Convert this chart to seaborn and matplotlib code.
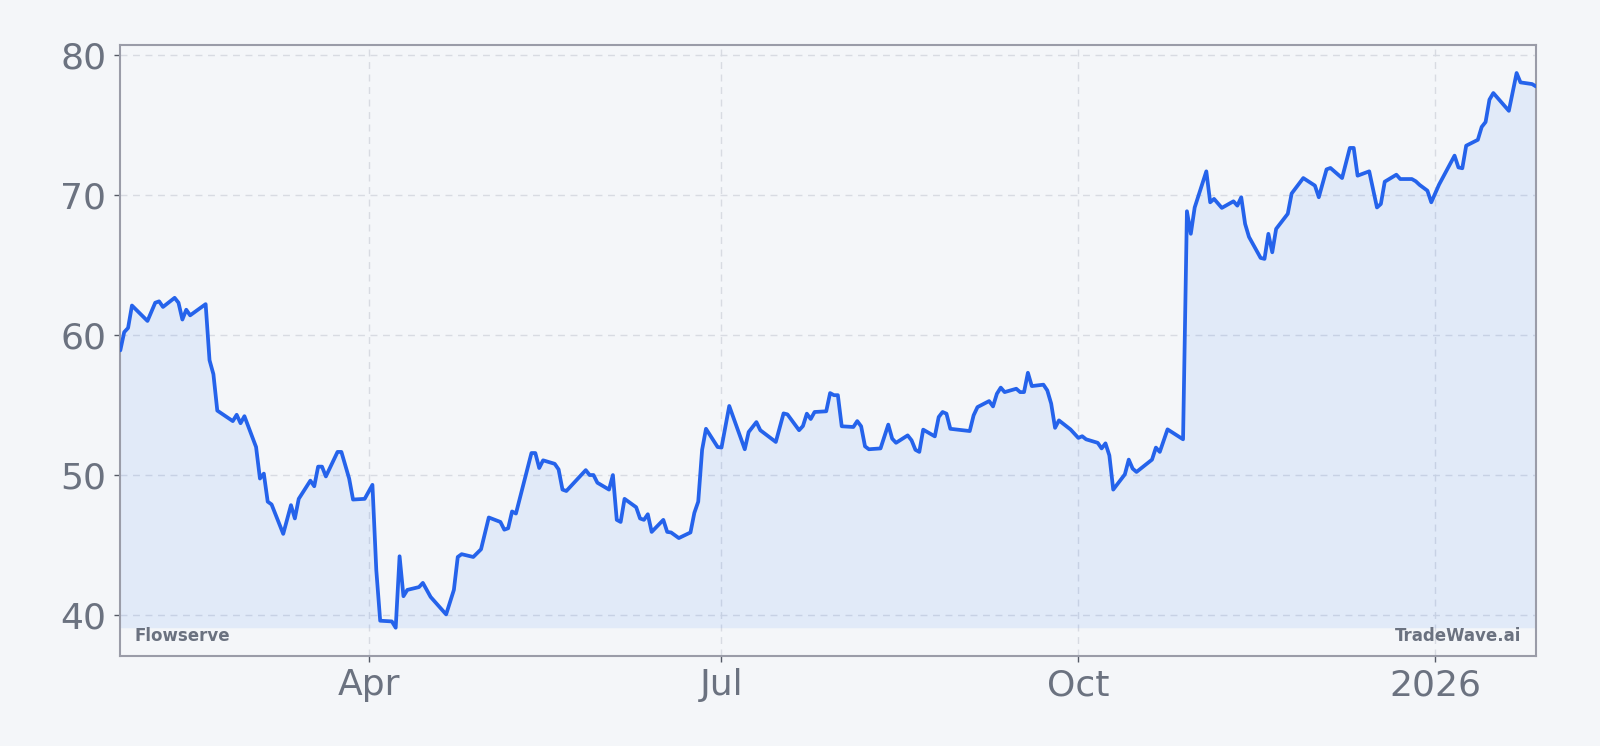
import matplotlib
matplotlib.use("Agg")
import matplotlib.pyplot as plt
import seaborn as sns
import pandas as pd

dates = [
    "2025-01-27", "2025-01-28", "2025-01-29", "2025-01-30", "2025-02-03", "2025-02-05",
    "2025-02-06", "2025-02-07", "2025-02-10", "2025-02-11", "2025-02-12", "2025-02-13",
    "2025-02-14", "2025-02-18", "2025-02-19", "2025-02-20", "2025-02-21", "2025-02-25",
    "2025-02-26", "2025-02-27", "2025-02-28", "2025-03-03", "2025-03-04", "2025-03-05",
    "2025-03-06", "2025-03-07", "2025-03-10", "2025-03-12", "2025-03-13", "2025-03-14",
    "2025-03-17", "2025-03-18", "2025-03-19", "2025-03-20", "2025-03-21", "2025-03-24",
    "2025-03-25", "2025-03-27", "2025-03-28", "2025-03-31", "2025-04-02", "2025-04-03",
    "2025-04-04", "2025-04-07", "2025-04-08", "2025-04-09", "2025-04-10", "2025-04-11",
    "2025-04-14", "2025-04-15", "2025-04-17", "2025-04-21", "2025-04-23", "2025-04-24",
    "2025-04-25", "2025-04-28", "2025-04-30", "2025-05-02", "2025-05-05", "2025-05-06",
    "2025-05-07", "2025-05-08", "2025-05-09", "2025-05-13", "2025-05-14", "2025-05-15",
    "2025-05-16", "2025-05-19", "2025-05-20", "2025-05-21", "2025-05-22", "2025-05-27",
    "2025-05-28", "2025-05-29", "2025-05-30", "2025-06-02", "2025-06-03", "2025-06-04",
    "2025-06-05", "2025-06-06", "2025-06-09", "2025-06-10", "2025-06-11", "2025-06-12",
    "2025-06-13", "2025-06-16", "2025-06-17", "2025-06-18", "2025-06-20", "2025-06-23",
    "2025-06-24", "2025-06-25", "2025-06-26", "2025-06-27", "2025-06-30", "2025-07-01",
    "2025-07-03", "2025-07-07", "2025-07-08", "2025-07-10", "2025-07-11", "2025-07-15",
    "2025-07-17", "2025-07-18", "2025-07-21", "2025-07-22", "2025-07-23", "2025-07-24",
    "2025-07-25", "2025-07-28", "2025-07-29", "2025-07-30", "2025-07-31", "2025-08-01",
    "2025-08-04", "2025-08-05", "2025-08-06", "2025-08-07", "2025-08-08", "2025-08-11",
    "2025-08-13", "2025-08-14", "2025-08-15", "2025-08-18", "2025-08-19", "2025-08-20",
    "2025-08-21", "2025-08-22", "2025-08-25", "2025-08-26", "2025-08-27", "2025-08-28",
    "2025-08-29", "2025-09-03", "2025-09-04", "2025-09-05", "2025-09-08", "2025-09-09",
    "2025-09-10", "2025-09-11", "2025-09-12", "2025-09-15", "2025-09-16", "2025-09-17",
    "2025-09-18", "2025-09-19", "2025-09-22", "2025-09-23", "2025-09-24", "2025-09-25",
    "2025-09-26", "2025-09-29", "2025-10-01", "2025-10-02", "2025-10-03", "2025-10-06",
    "2025-10-07", "2025-10-08", "2025-10-09", "2025-10-10", "2025-10-13", "2025-10-14",
    "2025-10-15", "2025-10-16", "2025-10-20", "2025-10-21", "2025-10-22", "2025-10-24",
    "2025-10-28", "2025-10-29", "2025-10-30", "2025-10-31", "2025-11-03", "2025-11-04",
    "2025-11-05", "2025-11-07", "2025-11-10", "2025-11-11", "2025-11-12", "2025-11-13",
    "2025-11-14", "2025-11-17", "2025-11-18", "2025-11-19", "2025-11-20", "2025-11-21",
    "2025-11-24", "2025-11-25", "2025-11-28", "2025-12-01", "2025-12-02", "2025-12-04",
    "2025-12-05", "2025-12-08", "2025-12-10", "2025-12-11", "2025-12-12", "2025-12-15",
    "2025-12-17", "2025-12-18", "2025-12-19", "2025-12-22", "2025-12-23", "2025-12-26",
    "2025-12-27", "2025-12-28", "2025-12-30", "2025-12-31", "2026-01-02", "2026-01-06",
    "2026-01-07", "2026-01-08", "2026-01-09", "2026-01-12", "2026-01-13", "2026-01-14",
    "2026-01-15", "2026-01-16", "2026-01-20", "2026-01-22", "2026-01-23", "2026-01-26",
    "2026-01-27",
]

prices = [
    58.9, 60.2, 60.5, 62.1, 61.0, 62.3,
    62.4, 62.0, 62.65, 62.3, 61.1, 61.8,
    61.4, 62.2, 58.2, 57.2, 54.6, 53.85,
    54.3, 53.7, 54.2, 52.0, 49.75, 50.1,
    48.1, 47.9, 45.8, 47.85, 46.9, 48.3,
    49.6, 49.2, 50.6, 50.6, 49.9, 51.65,
    51.65, 49.75, 48.25, 48.3, 49.3, 43.2,
    39.6, 39.55, 39.1, 44.2, 41.35, 41.8,
    42.0, 42.3, 41.3, 40.05, 41.8, 44.15,
    44.35, 44.15, 44.7, 46.97, 46.65, 46.1,
    46.2, 47.4, 47.25, 51.57, 51.57, 50.5,
    51.05, 50.8, 50.4, 48.96, 48.86, 50.35,
    50.0, 50.0, 49.45, 48.96, 50.0, 46.8,
    46.65, 48.3, 47.7, 46.9, 46.8, 47.2,
    45.94, 46.8, 45.94, 45.9, 45.5, 45.9,
    47.3, 48.1, 51.8, 53.3, 52.0, 51.96,
    54.93, 51.84, 53.07, 53.78, 53.2, 52.36,
    54.4, 54.33, 53.2, 53.5, 54.38, 54.0,
    54.5, 54.55, 55.85, 55.7, 55.7, 53.48,
    53.43, 53.85, 53.48, 52.05, 51.84, 51.9,
    53.6, 52.6, 52.3, 52.83, 52.48, 51.8,
    51.65, 53.24, 52.76, 54.14, 54.5, 54.38,
    53.3, 53.14, 54.26, 54.85, 55.28, 54.9,
    55.8, 56.24, 55.92, 56.16, 55.92, 55.92,
    57.3, 56.35, 56.45, 56.04, 55.1, 53.37,
    53.9, 53.25, 52.65, 52.77, 52.55, 52.3,
    51.9, 52.26, 51.4, 48.96, 50.05, 51.1,
    50.46, 50.22, 51.1, 51.96, 51.65, 53.26,
    52.55, 68.83, 67.22, 69.1, 71.68, 69.47,
    69.71, 69.07, 69.54, 69.23, 69.83, 67.93,
    67.0, 65.5, 65.43, 67.22, 65.9, 67.57,
    68.65, 70.1, 71.2, 70.66, 69.83, 71.82,
    71.92, 71.2, 73.35, 73.35, 71.37, 71.68,
    69.1, 69.35, 70.94, 71.44, 71.13, 71.13,
    70.97, 70.71, 70.3, 69.47, 70.73, 72.8,
    71.96, 71.9, 73.51, 73.93, 74.85, 75.2,
    76.8, 77.27, 76.0, 78.7, 78.03, 77.91,
    77.74,
]

y_ticks = [40, 50, 60, 70, 80]
x_tick_dates = ["2025-04-01", "2025-07-01", "2025-10-01", "2026-01-01"]
x_tick_labels = ["Apr", "Jul", "Oct", "2026"]
company = "Flowserve"
brand = "TradeWave.ai"

BG = "#f4f6f9"
LINE = "#2563eb"
FILL = "#3b82f6"
TEXT = "#6b7280"

sns.set_theme(style="white")
plt.rcParams["font.family"] = ["DejaVu Sans"]

df = pd.DataFrame({"date": pd.to_datetime(dates), "price": prices})

fig = plt.figure(figsize=(16, 7.46), dpi=100, facecolor=BG)
ax = fig.add_axes([0.0752, 0.121, 0.8848, 0.8187])
ax.set_facecolor(BG)

ymin = df["price"].min()
ymax = df["price"].max()
ax.fill_between(df["date"], df["price"], ymin, color=FILL, alpha=0.1, linewidth=0, zorder=1)
sns.lineplot(data=df, x="date", y="price", ax=ax, color=LINE, linewidth=2.7, zorder=3)

ax.set_xlim(df["date"].iloc[0], df["date"].iloc[-1])
ax.set_ylim(ymin - 2, ymax + 2)

ax.set_yticks(y_ticks)
ax.set_yticklabels([str(v) for v in y_ticks])
ax.set_xticks(pd.to_datetime(x_tick_dates))
ax.set_xticklabels(x_tick_labels)

ax.tick_params(axis="y", labelsize=26, colors="#555a66", length=4, width=1, pad=6, labelcolor=TEXT)
ax.tick_params(axis="x", labelsize=26, colors="#555a66", length=4, width=1, pad=5, labelcolor=TEXT)
ax.tick_params(left=True, bottom=True)

ax.grid(True, which="major", axis="both", color="#d5d9e0", linestyle=(0, (5, 4)), linewidth=1.0, alpha=0.9, zorder=0)
ax.set_axisbelow(True)

for sp in ax.spines.values():
    sp.set_visible(True)
    sp.set_color("#9a9ca8")
    sp.set_linewidth(1.5)

ax.set_xlabel("")
ax.set_ylabel("")

ax.annotate(company, xy=(0, 0), xycoords="axes fraction", xytext=(14, 15),
            textcoords="offset pixels", ha="left", va="baseline",
            fontsize=12, fontweight="bold", color=TEXT)
ax.annotate(brand, xy=(1, 0), xycoords="axes fraction", xytext=(-15, 15),
            textcoords="offset pixels", ha="right", va="baseline",
            fontsize=12, fontweight="bold", color=TEXT)

fig.savefig("out.png", dpi=100, facecolor=BG)
